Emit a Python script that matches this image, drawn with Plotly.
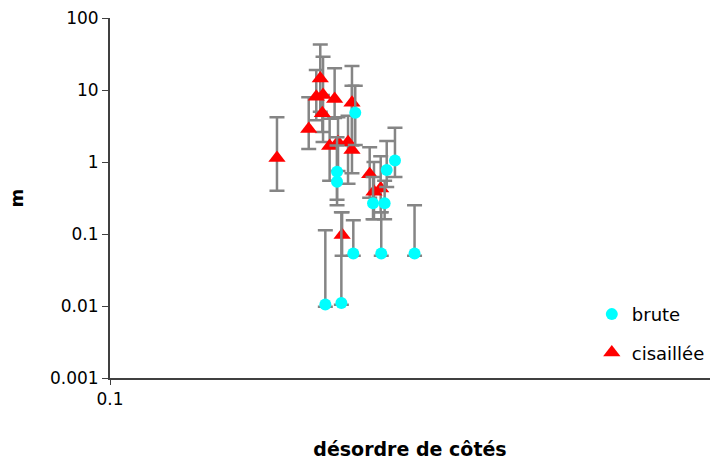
import plotly.graph_objects as go

# brute (cyan circles)
brute_x = [0.2563, 0.2390, 0.2390, 0.2985, 0.2892, 0.2744, 0.2869, 0.2544, 0.2832, 0.3218, 0.2285, 0.2430]
brute_y = [4.84, 0.733, 0.533, 1.05, 0.774, 0.267, 0.267, 0.0537, 0.0537, 0.0537, 0.0105, 0.011]
brute_hi = [11.5, 2.2, 1.7, 3.0, 1.96, 0.62, 0.55, 0.155, 0.2, 0.25, 0.113, 0.2]
brute_lo = [1.72, 0.3, 0.25, 0.62, 0.45, 0.16, 0.16, 0.05, 0.05, 0.05, 0.0098, 0.0104]

# cisaillée (red triangles)
cis_x = [0.1898, 0.2144, 0.2241, 0.2207, 0.2265, 0.2368, 0.2259, 0.2531, 0.2323, 0.2399,
         0.2493, 0.2531, 0.2709, 0.2754, 0.2826, 0.2437]
cis_y = [1.14, 2.87, 14.5, 8.06, 8.5, 7.5, 4.75, 6.67, 1.67, 1.88, 1.88, 1.47, 0.675, 0.387, 0.43, 0.097]
cis_hi = [4.2, 7.9, 43, 19, 29, 20, 8.5, 21.6, 4.0, 4.2, 4.4, 11.5, 1.6, 1.0, 1.2, 0.2]
cis_lo = [0.40, 1.52, 5.0, 3.8, 1.9, 4.1, 2.6, 1.7, 0.55, 0.75, 0.5, 0.7, 0.32, 0.16, 0.2, 0.05]

y_ticks = [0.001, 0.01, 0.1, 1, 10, 100]
y_labels = ["0.001", "0.01", "0.1", "1", "10", "100"]
x_ticks = [0.1]
x_labels = ["0.1"]

err_color = "#858585"

def err(vals, hi, lo):
    return dict(type="data", symmetric=False,
                array=[h - v for h, v in zip(hi, vals)],
                arrayminus=[v - l for v, l in zip(vals, lo)],
                color=err_color, thickness=2.5, width=7.5)

fig = go.Figure()
fig.add_trace(go.Scatter(
    x=cis_x, y=cis_y, mode="markers", name="cisaillée",
    marker=dict(symbol="triangle-up", size=15, color="#ff0000"),
    error_y=err(cis_y, cis_hi, cis_lo), legendrank=2, legendgroup="b"))
fig.add_trace(go.Scatter(
    x=brute_x, y=brute_y, mode="markers", name="brute",
    marker=dict(symbol="circle", size=12, color="#00ffff"),
    error_y=err(brute_y, brute_hi, brute_lo), legendrank=1, legendgroup="a"))

font = "DejaVu Sans, Liberation Sans, sans-serif"
fig.update_layout(
    width=710, height=461,
    margin=dict(l=110, r=0, t=18, b=83, autoexpand=False),
    paper_bgcolor="white", plot_bgcolor="white",
    font=dict(family=font, size=17, color="black"),
    showlegend=True,
    legend=dict(x=0.803, y=0.228, xanchor="left", yanchor="top",
                traceorder="grouped", tracegroupgap=12,
                font=dict(size=18, family=font), bgcolor="rgba(0,0,0,0)"),
    xaxis=dict(type="log", range=[-1, 0], showgrid=False, zeroline=False,
               automargin=False,
               showline=True, linecolor="#404040", linewidth=2,
               ticks="outside", ticklen=5, tickcolor="#404040",
               tickvals=x_ticks, ticktext=x_labels, tickfont=dict(size=17),
               title=dict(text="<b>désordre de côtés</b>", standoff=34,
                          font=dict(size=19, family=font))),
    yaxis=dict(type="log", range=[-3, 2], showgrid=False, zeroline=False,
               automargin=False,
               showline=True, linecolor="#404040", linewidth=2,
               ticks="outside", ticklen=6, tickcolor="#404040",
               tickvals=y_ticks, ticktext=y_labels, tickfont=dict(size=17),
               title=dict(text="<b>m</b>", standoff=22,
                          font=dict(size=18, family=font))),
)
fig.write_html("out.html", config={"displayModeBar": False},
               post_script="document.body.style.margin='0';")
